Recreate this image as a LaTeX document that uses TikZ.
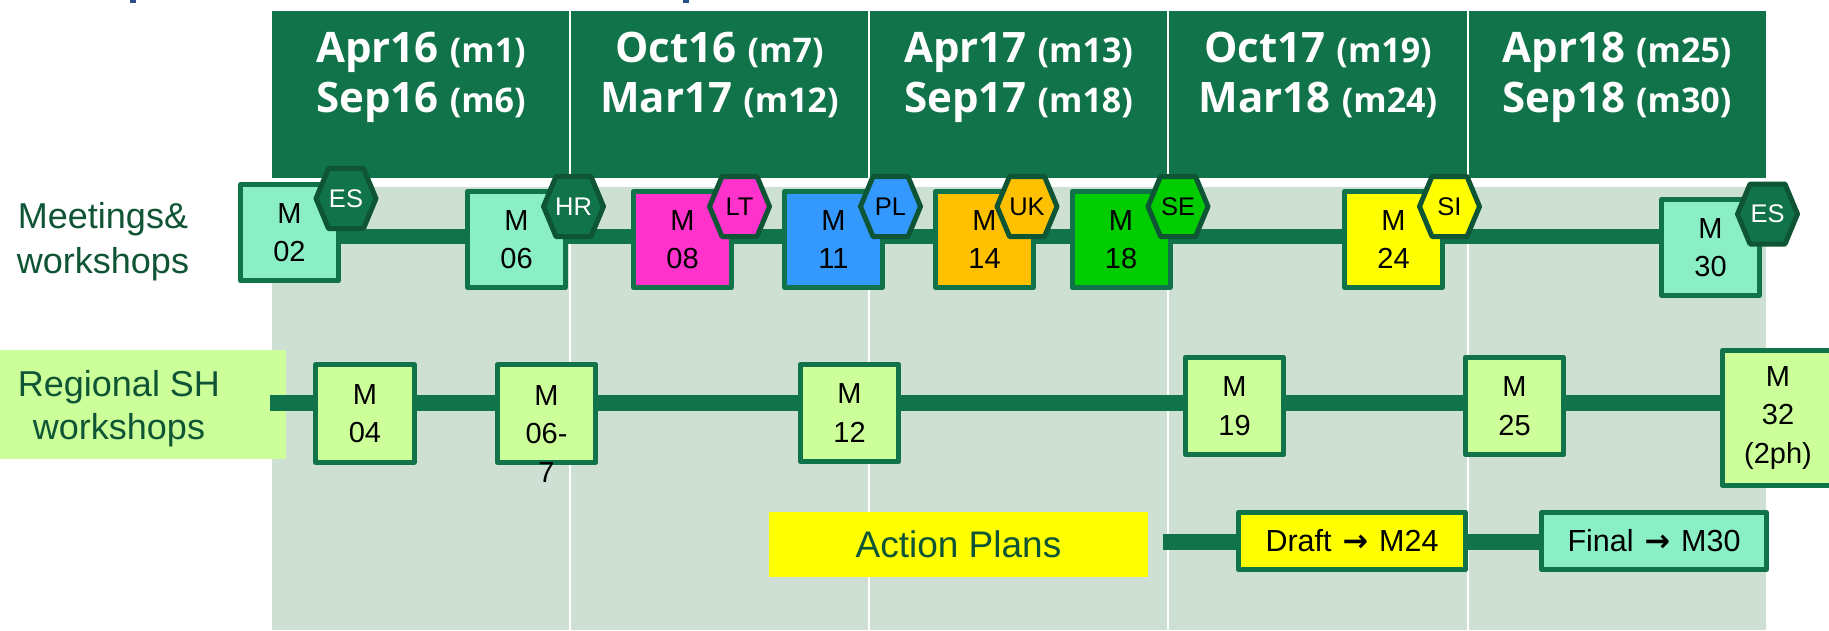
\documentclass[tikz,border=0pt]{standalone}
\usepackage{fontspec}
\setmainfont{Liberation Sans}
\newfontfamily\hdrfont{Open Sans}
\newfontfamily\arrfont{DejaVu Sans}
\definecolor{hg}{HTML}{117349}
\definecolor{bgg}{HTML}{CEDFD3}
\definecolor{mint}{HTML}{8AEFC5}
\definecolor{lgreen}{HTML}{CCFF99}
\definecolor{hexd}{HTML}{0E5535}
\definecolor{lblc}{HTML}{0F5535}
\definecolor{mag}{HTML}{FF33CC}
\definecolor{blu}{HTML}{3399FF}
\definecolor{org}{HTML}{FFC000}
\definecolor{grn}{HTML}{00CC00}
\definecolor{yel}{HTML}{FFFF00}
\definecolor{ttl}{HTML}{2B4F8A}
\newcommand{\hexa}[6]{%
  \draw[hexb, fill=#4] (#2-30,#3) -- (#2-17.5,#3-30) -- (#2+17.5,#3-30) -- (#2+30,#3) -- (#2+17.5,#3+30) -- (#2-17.5,#3+30) -- cycle;
  \node[hext, text=#5] (#1) at (#2,#3) {#6};}
\newcommand{\hdtxt}[2]{{\fontsize{42}{50}\selectfont #1}\hspace*{11pt}{\fontsize{34}{40}\selectfont #2}}
\newcommand{\arr}{\hspace*{11pt}{\arrfont\bfseries →}\hspace*{11pt}}
\begin{document}
\begin{tikzpicture}[x=1pt,y=-1pt,
  box/.style={draw=hg, line width=5pt, line join=round, minimum width=98pt, minimum height=96pt, inner sep=0pt, align=center, font=\fontsize{29}{38.5}\selectfont},
  rbox/.style={box, fill=lgreen, minimum width=98.5pt, minimum height=97.5pt},
  hexb/.style={draw=hexd, line width=5pt, line join=round},
  hext/.style={inner sep=0pt, font=\fontsize{25.5}{30}\selectfont},
  track/.style={draw=hg, line width=15pt},
  lbl/.style={text=lblc, inner sep=0pt, anchor=base, font=\fontsize{36}{45}\selectfont},
  hd/.style={text=white, inner sep=0pt, anchor=base, font=\hdrfont\bfseries},
  divider/.style={draw=white, line width=2pt}]
\useasboundingbox (0,0) rectangle (1829,630);
\clip (0,0) rectangle (1829,630);
\fill[white] (0,0) rectangle (1829,630);
% title fragments
\fill[ttl] (130,0) rectangle (136,3);
\fill[ttl] (683,0) rectangle (689,3);
% background and header
\fill[bgg] (272,187) rectangle (1766,630);
\fill[hg] (272,11) rectangle (1766,178);
\foreach \x in {570,869,1168,1468} \draw[divider] (\x,11) -- (\x,630);
% header texts
\node[hd] (h1a) at (421,62) {\hdtxt{Apr16}{(m1)}};
\node[hd] (h1b) at (421,112) {\hdtxt{Sep16}{(m6)}};
\node[hd] (h2a) at (719.5,62) {\hdtxt{Oct16}{(m7)}};
\node[hd] (h2b) at (719.5,112) {\hdtxt{Mar17}{(m12)}};
\node[hd] (h3a) at (1018.5,62) {\hdtxt{Apr17}{(m13)}};
\node[hd] (h3b) at (1018.5,112) {\hdtxt{Sep17}{(m18)}};
\node[hd] (h4a) at (1318,62) {\hdtxt{Oct17}{(m19)}};
\node[hd] (h4b) at (1318,112) {\hdtxt{Mar18}{(m24)}};
\node[hd] (h5a) at (1617,62) {\hdtxt{Apr18}{(m25)}};
\node[hd] (h5b) at (1617,112) {\hdtxt{Sep18}{(m30)}};
% row labels
\node[lbl] (meet1) at (103,228) {Meetings\&};
\node[lbl] (meet2) at (103,273) {workshops};
\node[fill=lgreen, minimum width=286pt, minimum height=109pt, inner sep=0pt, anchor=north west] (regbox) at (0,350) {};
\node[lbl] (reg1) at (119,396) {Regional SH};
\node[lbl] (reg2) at (119,439) {workshops};
% tracks
\coordinate (mS) at (289.5,236.5);
\coordinate (mE) at (1710.5,236.5);
\coordinate (rS) at (270,403);
\coordinate (rE) at (1778,403);
\coordinate (aS) at (1163,542);
\coordinate (aE) at (1654,542);
\draw[track] (mS) -- (mE);
\draw[track, line width=16pt] (rS) -- (rE);
\draw[track, line width=16pt] (aS) -- (aE);
% meetings boxes
\node[box, fill=mint] (m02) at (289.5,232.5) {M\\02};
\node[box, fill=mint] (m06) at (516.5,239.5) {M\\06};
\node[box, fill=mag] (m08) at (682.5,239.5) {M\\08};
\node[box, fill=blu] (m11) at (833.5,239.5) {M\\11};
\node[box, fill=org] (m14) at (984.5,239.5) {M\\14};
\node[box, fill=grn] (m18) at (1121,239.5) {M\\18};
\node[box, fill=yel] (m24) at (1393.5,239.5) {M\\24};
\node[box, fill=mint] (m30) at (1710.5,247.5) {M\\30};
% hexagons
\hexa{es1}{346}{198.5}{hg}{white}{ES}
\hexa{hr}{573.5}{206.5}{hg}{white}{HR}
\hexa{lt}{739.5}{206.5}{mag}{black}{LT}
\hexa{pl}{890.5}{206.5}{blu}{black}{PL}
\hexa{uk}{1027}{206.5}{org}{black}{UK}
\hexa{se}{1178}{206.5}{grn}{black}{SE}
\hexa{si}{1449.5}{206.5}{yel}{black}{SI}
\hexa{es2}{1767.5}{214}{hg}{white}{ES}
% regional boxes
\node[rbox] (m04) at (365,413.5) {M\\04};
\node[rbox] (m067) at (546.5,413.5) {};
\node[inner sep=0pt, align=center, anchor=north, font=\fontsize{29}{38.5}\selectfont] (m067t) at (546.5,385) {M\\06-\\7};
\node[rbox] (m12) at (849.5,413) {M\\12};
\node[rbox] (m19) at (1234.5,406) {M\\19};
\node[rbox] (m25) at (1514.5,406) {M\\25};
\node[rbox, minimum width=111pt, minimum height=135pt] (m32) at (1778,418) {M\\32\\(2ph)};
% action plans
\node[fill=yel, minimum width=379pt, minimum height=65pt, inner sep=0pt, text=lblc, font=\fontsize{37}{44}\selectfont] (ap) at (958.5,544.5) {Action Plans};
\node[box, fill=yel, minimum width=227pt, minimum height=57pt, font=\fontsize{30.5}{36}\selectfont] (draft) at (1352,541) {Draft\arr M24};
\node[box, fill=mint, minimum width=225pt, minimum height=57pt, font=\fontsize{30.5}{36}\selectfont] (final) at (1654,541) {Final\arr M30};
\end{tikzpicture}
\end{document}
